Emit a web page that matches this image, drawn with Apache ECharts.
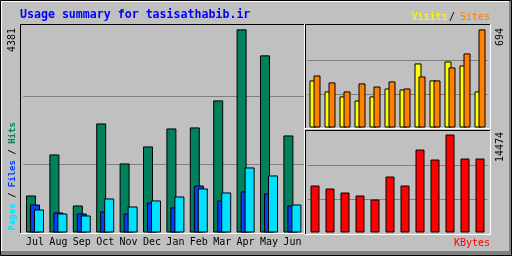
<!DOCTYPE html>
<html>
<head>
<meta charset="utf-8">
<script src="https://cdn.jsdelivr.net/npm/echarts@6/dist/echarts.min.js"></script>
<style>
html,body{margin:0;padding:0;background:#c0c0c0;}
#chart{width:512px;height:256px;}
</style>
</head>
<body>
<div id="chart"></div>
<script>
// monthly usage, Jul..Jun
var months = ['Jul','Aug','Sep','Oct','Nov','Dec','Jan','Feb','Mar','Apr','May','Jun'];
var hits   = [798,1683,583,2352,1489,1856,2244,2266,2849,4381,3820,2093];
var files  = [604,432,410,453,410,647,540,1014,691,885,842,583];
var pages  = [496,410,367,734,561,691,777,950,863,1403,1230,604];
var visits = [333,255,220,191,220,276,269,453,333,467,439,255];
var sites  = [368,319,255,312,290,326,276,361,333,425,524,694];
var kbytes = [6942,6499,5908,5465,4874,8271,6942,12259,10782,14474,10930,10930];

var MONO = '"DejaVu Sans Mono", monospace';
var SHADOW = '#707070';

function maxOf(arr){ return Math.max.apply(null, arr); }

//
function hLine(x1, x2, y, color){
	return { type:'line', z:50, silent:true, shape:{x1:x1, y1:y, x2:x2, y2:y}, style:{stroke:color, lineWidth:1} };
}
function vLine(x, y1, y2, color){
	return { type:'line', z:50, silent:true, shape:{x1:x, y1:y1, x2:x, y2:y2}, style:{stroke:color, lineWidth:1} };
}
// sunken panel: black top/left, white bottom/right
function panel(x1, y1, x2, y2){
	return [
		hLine(x1, x2, y1 + 0.5, '#000'),
		vLine(x1 + 0.5, y1, y2, '#000'),
		hLine(x1, x2 + 1, y2 + 0.5, '#fff'),
		vLine(x2 + 0.5, y1, y2 + 1, '#fff')
	];
}
function label(txt, x, y, color, opts){
	opts = opts || {};
	var el = {
		type:'text', z:60, silent:true, x:x, y:y, rotation: opts.rot || 0,
		style:{
			text:txt, fill:color, font:(opts.font || '10px ' + MONO),
			align:opts.align || 'left', verticalAlign:'middle'
		}
	};
	if (opts.shadow) {
		el.style.textShadowColor = SHADOW;
		el.style.textShadowOffsetX = 1;
		el.style.textShadowOffsetY = 1;
		el.style.textShadowBlur = 0;
	}
	return el;
}

var graphics = [
	// outer frame
	{ type:'rect', z:40, silent:true, shape:{x:509, y:1, width:2, height:254}, style:{fill:'#808080'} },
	{ type:'rect', z:40, silent:true, shape:{x:1, y:251, width:510, height:4}, style:{fill:'#808080'} },
	hLine(1, 509, 1.5, '#fff'),
	vLine(1.5, 1, 251, '#fff'),
	{ type:'rect', z:41, silent:true, shape:{x:0.5, y:0.5, width:511, height:255}, style:{fill:'none', stroke:'#000', lineWidth:1} }
];
graphics = graphics.concat(panel(20, 24, 304, 233));
graphics = graphics.concat(panel(305, 24, 490, 128));
graphics = graphics.concat(panel(305, 130, 490, 234));

graphics.push(label('Usage summary for tasisathabib.ir', 20, 15, '#0000ff', {font:'bold 11.6px ' + MONO}));
graphics.push(label('Visits', 411.5, 17, '#ffff00', {shadow:true}));
graphics.push(label('/', 452, 17, '#000', {align:'center'}));
graphics.push(label('Sites', 460, 17, '#ff8000', {shadow:true}));
graphics.push(label('KBytes', 490, 243, '#ff0000', {shadow:true, align:'right'}));
graphics.push(label(String(maxOf(hits)), 12.8, 28, '#000', {rot:Math.PI/2, align:'right'}));
graphics.push(label(String(maxOf(sites)), 500.2, 28, '#000', {rot:Math.PI/2, align:'right'}));
graphics.push(label(String(maxOf(kbytes)), 500.3, 132, '#000', {rot:Math.PI/2, align:'right'}));

var vfont = 'bold 9px ' + MONO;
graphics.push({
	type:'text', z:60, silent:true, x:12.5, y:230.5, rotation:Math.PI/2,
	style:{
		text:'{p|Pages} / {f|Files} / {h|Hits}',
		font:vfont, fill:'#000', align:'left', verticalAlign:'middle',
		rich:{
			p:{ fill:'#00e0ff', font:vfont, textShadowColor:SHADOW, textShadowOffsetX:1, textShadowOffsetY:1 },
			f:{ fill:'#0040ff', font:vfont, textShadowColor:SHADOW, textShadowOffsetX:1, textShadowOffsetY:1 },
			h:{ fill:'#00805c', font:vfont, textShadowColor:SHADOW, textShadowOffsetX:1, textShadowOffsetY:1 }
		}
	}
});

function valueAxis(idx, max, interval){
	return {
		type:'value', gridIndex:idx, min:0, max:max, interval:interval,
		axisLabel:{show:false}, axisLine:{show:false}, axisTick:{show:false},
		splitLine:{show:true, showMinLine:false, showMaxLine:false, lineStyle:{color:'#808080', width:1}}
	};
}
function catAxis(idx, showLabel){
	return {
		type:'category', gridIndex:idx, data:months,
		axisLine:{show:false}, axisTick:{show:false},
		axisLabel:{show:showLabel, color:'#000', fontFamily:MONO, fontSize:10, margin:10, verticalAlign:'middle', interval:0}
	};
}
function bars(name, data, axis, color, width, gap){
	return {
		name:name, type:'bar', xAxisIndex:axis, yAxisIndex:axis, data:data,
		barWidth:width, barGap:gap, silent:true,
		itemStyle:{color:color, borderColor:'#000', borderWidth:1}
	};
}

var myChart = echarts.init(document.getElementById('chart'), null, {renderer:'canvas'});
var option = {
	animation:false,
	backgroundColor:'#c0c0c0',
	grid:[
		{ left:23.3, right:207.9, top:28, bottom:23.5 },
		{ left:307.5, right:24.5, top:27, bottom:128.5 },
		{ left:307.5, right:24.5, top:132, bottom:23.5 }
	],
	xAxis:[ catAxis(0, true), catAxis(1, false), catAxis(2, false) ],
	yAxis:[ valueAxis(0, 4410, 1470), valueAxis(1, 711, 237), valueAxis(2, 14850, 4950) ],
	series:[
		bars('Hits', hits, 0, '#00805c', 10, '-60%'),
		bars('Files', files, 0, '#0040ff', 10, '-60%'),
		bars('Pages', pages, 0, '#00e0ff', 10, '-60%'),
		bars('Visits', visits, 1, '#ffff00', 7, '-42.857%'),
		bars('Sites', sites, 1, '#ff8000', 7, '-42.857%'),
		bars('KBytes', kbytes, 2, '#ff0000', 9, '30%')
	],
	graphic:graphics
};
myChart.setOption(option);
</script>
</body>
</html>
